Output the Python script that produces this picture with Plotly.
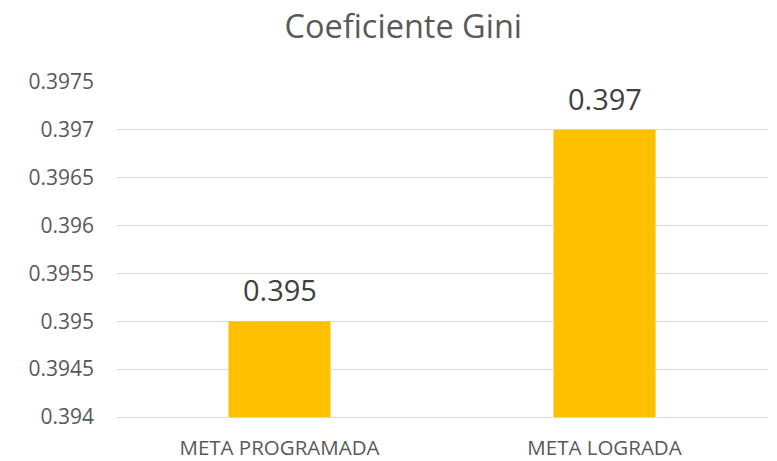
import plotly.graph_objects as go

categories = ["META PROGRAMADA", "META LOGRADA"]
values = [0.395, 0.397]
labels = ["0.395", "0.397"]
y_ticks = [0.394, 0.3945, 0.395, 0.3955, 0.396, 0.3965, 0.397, 0.3975]
y_tick_text = ["0.394", "0.3945", "0.395", "0.3955", "0.396", "0.3965", "0.397", "0.3975"]

FONT = "Open Sans"
GREY = "#595959"

fig = go.Figure(go.Bar(
    x=categories, y=values,
    marker=dict(color="#FFC000", line=dict(width=0)),
    hoverinfo="x+y",
))

for c, v, t in zip(categories, values, labels):
    fig.add_annotation(x=c, y=v, text=t, showarrow=False, yanchor="bottom", yshift=10,
                       font=dict(family=FONT, size=29, color="#404040"))

fig.update_layout(
    width=777, height=461,
    margin=dict(l=117, r=10, t=82, b=44),
    paper_bgcolor="white", plot_bgcolor="white",
    title=dict(text="Coeficiente Gini", x=0.519, xanchor="center", y=0.943, yanchor="middle",
               font=dict(family=FONT, size=32.5, color=GREY)),
    bargap=0.686,
    showlegend=False,
    font=dict(family=FONT, color=GREY),
)
fig.update_yaxes(
    range=[0.394, 0.3975], tickvals=y_ticks, ticktext=y_tick_text,
    showgrid=True, gridcolor="#D9D9D9", gridwidth=1.3, zeroline=False,
    showline=False, ticks="", ticklabelstandoff=22, automargin=False,
    tickfont=dict(family=FONT, size=21, color=GREY),
)
fig.update_xaxes(
    showline=True, linecolor="#D9D9D9", linewidth=1.3, ticks="",
    ticklabelstandoff=12, automargin=False,
    tickfont=dict(family=FONT, size=20.5, color=GREY),
)

fig.write_html("out.html", config={"displayModeBar": False},
               post_script="document.body.style.margin='0';document.body.style.overflow='hidden';")
